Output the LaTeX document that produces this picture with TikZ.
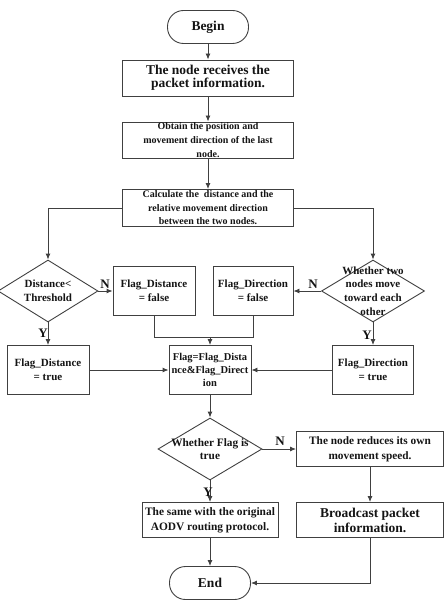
\documentclass[tikz,border=0pt]{standalone}
\usepackage{fontspec}
\setmainfont{Liberation Serif}
\usetikzlibrary{arrows.meta, shapes.geometric, calc}
\definecolor{clrLn}{RGB}{64,64,64}
\definecolor{clrTx}{RGB}{20,20,20}

\begin{document}
\begin{tikzpicture}[x=1pt, y=-1pt,
  %% -- node styles --
  term/.style  = {rectangle, rounded corners=16pt, draw=clrLn, line width=0.9pt,
                  minimum width=81pt, minimum height=33pt, text=clrTx,
                  font=\fontsize{13.5}{15}\selectfont\bfseries},
  proc/.style  = {rectangle, draw=clrLn, line width=0.9pt, align=center,
                  inner xsep=1pt, inner ysep=-2pt, text=clrTx,
                  font=\fontsize{10}{14}\selectfont\bfseries},
  flag/.style  = {proc, minimum width=82pt, minimum height=49pt,
                  font=\fontsize{11}{14}\selectfont\bfseries},
  dec/.style   = {diamond, draw=clrLn, line width=0.9pt, inner sep=0pt},
  dtxt/.style  = {align=center, inner sep=0pt, text=clrTx,
                  font=\fontsize{11}{13.7}\selectfont\bfseries},
  %% -- arrow / label styles --
  arr/.style   = {-{Latex[length=6pt, width=5pt]}, line width=0.9pt, draw=clrLn},
  line/.style  = {line width=0.9pt, draw=clrLn},
  lab/.style   = {inner sep=0pt, text=clrTx, font=\fontsize{13}{14}\selectfont\bfseries},
]
\useasboundingbox (0,0) rectangle (445,601);

%% top column
\node[term] (begin) at (208,27) {Begin};
\node[proc, minimum width=171pt, minimum height=36pt,
      font=\fontsize{13.5}{13.5}\selectfont\bfseries] (recv) at (208,78)
      {The node receives the\\packet information.};
\node[proc, minimum width=171pt, minimum height=36pt] (obtain) at (208,140)
      {Obtain the position and\\movement direction of the last\\node.};
\node[proc, minimum width=171pt, minimum height=37pt,
      font=\fontsize{10}{13.5}\selectfont\bfseries] (calc) at (208,208)
      {Calculate the \ distance and the\\relative movement direction\\between the two nodes.};

%% decisions on both sides
\node[dec, minimum width=100pt, minimum height=62pt] (dist) at (48,291) {};
\node[dtxt] at (dist) {Distance<\\Threshold};
\node[dec, minimum width=103pt, minimum height=62pt] (dir) at (373,291) {};
\node[dtxt] at (dir) {Whether two\\nodes move\\toward each\\other};

%% flag boxes
\node[flag] (fdf) at (154,291) {Flag\_Distance\\= false};
\node[flag, minimum width=80pt] (frf) at (253,291) {Flag\_Direction\\= false};
\node[flag] (fdt) at (48,370) {Flag\_Distance\\= true};
\node[flag, minimum width=81pt] (frt) at (373,370) {Flag\_Direction\\= true};
\node[flag, inner xsep=0pt, font=\fontsize{10.5}{12.7}\selectfont\bfseries]
      (comb) at (210,370) {Flag=Flag\_Dista\\nce\&Flag\_Direct\\ion};
\coordinate (mrg) at (210,337);

%% bottom part
\node[dec, minimum width=104pt, minimum height=62pt] (chk) at (210,449) {};
\node[dtxt, font=\fontsize{11.3}{13.5}\selectfont\bfseries] at (chk) {Whether Flag is\\true};
\node[proc, minimum width=147pt, minimum height=35pt,
      font=\fontsize{11.3}{15}\selectfont\bfseries] (slow) at (370,449)
      {The node reduces its own\\movement speed.};
\node[proc, minimum width=147pt, minimum height=35pt,
      font=\fontsize{13.5}{15}\selectfont\bfseries] (bcast) at (370,520)
      {Broadcast packet\\information.};
\node[proc, minimum width=136pt, minimum height=35pt,
      font=\fontsize{11.4}{15}\selectfont\bfseries] (same) at (210,520)
      {The same with the original\\AODV routing protocol.};
\node[term] (end) at (210,583) {End};

%% connectors
\draw[arr] (begin) -- (recv);
\draw[arr] (recv) -- (obtain);
\draw[arr] (obtain) -- (calc);
\draw[arr] (calc.west) -| (dist.north);
\draw[arr] (calc.east) -| (dir.north);
\draw[arr] (dist.east) -- (fdf.west);
\draw[arr] (dist.south) -- (fdt.north);
\draw[arr] (dir.west) -- (frf.east);
\draw[arr] (dir.south) -- (frt.north);
\draw[line] (fdf.south) |- (mrg);
\draw[line] (frf.south) |- (mrg);
\draw[arr] (mrg) -- (comb.north);
\draw[arr] (fdt.east) -- (comb.west);
\draw[arr] (frt.west) -- (comb.east);
\draw[arr] (comb.south) -- (chk.north);
\draw[arr] (chk.east) -- (slow.west);
\draw[arr] (chk.south) -- (same.north);
\draw[arr] (slow.south) -- (bcast.north);
\draw[arr] (same.south) -- (end.north);
\draw[arr] (bcast.south) |- (end.east);

%% Y / N labels
\node[lab] at (105,284) {N};
\node[lab] at (43,333) {Y};
\node[lab] at (313,284) {N};
\node[lab] at (367,335) {Y};
\node[lab] at (280,441) {N};
\node[lab] at (208,492) {Y};

\end{tikzpicture}
\end{document}
